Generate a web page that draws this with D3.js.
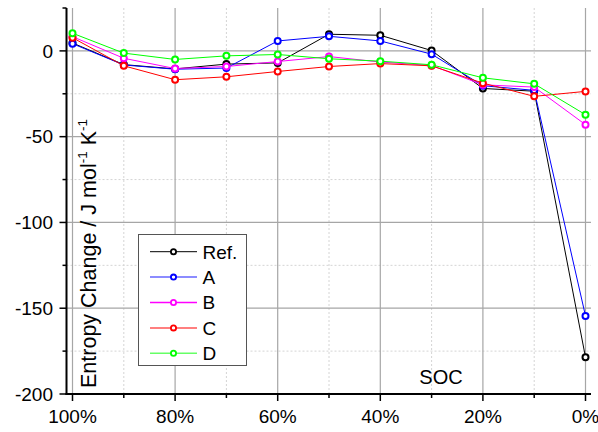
<!DOCTYPE html>
<html>
<head>
<meta charset="utf-8">
<script src="https://cdn.jsdelivr.net/npm/d3@7"></script>
<style>
  html, body { margin: 0; padding: 0; background: #fff; }
  svg { display: block; font-family: "Liberation Sans", Arial, sans-serif; }
</style>
</head>
<body>
<svg id="chart" width="598" height="432"></svg>
<script>
// State of charge (%) at each measurement
const soc = [100, 90, 80, 70, 60, 50, 40, 30, 20, 10, 0];
const xTickValues = [100, 80, 60, 40, 20, 0];
const xTickLabels = ["100%", "80%", "60%", "40%", "20%", "0%"];
const yTickValues = [0, -50, -100, -150, -200];
const yTickLabels = ["0", "-50", "-100", "-150", "-200"];

// Entropy change (J mol^-1 K^-1) per sample
const seriesNames = ["Ref.", "A", "B", "C", "D"];
const seriesColors = ["#000000", "#0000ff", "#ff00ff", "#ff0000", "#00ff00"];
const refValues = [4.6, -8.0, -10.5, -7.7, -7.0, 9.7, 9.1, 0.2, -21.9, -23.5, -178.6];
const aValues   = [4.2, -8.2, -10.7, -10.0, 5.8, 8.5, 5.8, -1.9, -20.3, -23.0, -154.5];
const bValues   = [8.3, -4.3, -10.3, -9.1, -6.2, -3.3, -6.5, -8.5, -19.8, -21.1, -43.0];
const cValues   = [7.7, -8.7, -16.8, -15.1, -12.0, -9.1, -7.4, -8.7, -18.8, -26.5, -23.6];
const dValues   = [10.3, -1.3, -5.0, -2.9, -2.1, -4.6, -6.0, -8.1, -15.7, -19.2, -37.2];
const allValues = [refValues, aValues, bValues, cValues, dValues];

const svg = d3.select("#chart");

// plot frame
const frameL = 66.5, frameR = 591, frameT = 8, frameB = 394;

const x = d3.scaleLinear().domain([100, 0]).range([72.5, 585.5]);
const y = d3.scaleLinear().domain([-200, 25]).range([frameB, frameT]);

const minorX = d3.range(90, -1, -20);           // 90, 70, ... 10
const minorY = [25, -25, -75, -125, -175];

// grid
const grid = svg.append("g");
grid.selectAll("line.gxm").data(minorX).join("line")
  .attr("x1", d => x(d)).attr("x2", d => x(d))
  .attr("y1", frameT).attr("y2", frameB)
  .attr("stroke", "#d4d4d4").attr("stroke-width", 1).attr("stroke-dasharray", "2,2");
grid.selectAll("line.gym").data(minorY.filter(d => d < 25)).join("line")
  .attr("x1", frameL).attr("x2", frameR)
  .attr("y1", d => y(d)).attr("y2", d => y(d))
  .attr("stroke", "#d4d4d4").attr("stroke-width", 1).attr("stroke-dasharray", "2,2");
grid.selectAll("line.gx").data(xTickValues).join("line")
  .attr("x1", d => x(d)).attr("x2", d => x(d))
  .attr("y1", frameT).attr("y2", frameB)
  .attr("stroke", "#a6a6a6").attr("stroke-width", 1.2);
grid.selectAll("line.gy").data(yTickValues.filter(d => d > -200)).join("line")
  .attr("x1", frameL).attr("x2", frameR)
  .attr("y1", d => y(d)).attr("y2", d => y(d))
  .attr("stroke", "#a6a6a6").attr("stroke-width", 1.2);

// series
const line = d3.line().x((d, i) => x(soc[i])).y(d => y(d));
allValues.forEach((vals, k) => {
  const g = svg.append("g");
  g.append("path").datum(vals)
    .attr("d", line)
    .attr("fill", "none")
    .attr("stroke", seriesColors[k])
    .attr("stroke-width", 1);
  g.selectAll("circle").data(vals).join("circle")
    .attr("cx", (d, i) => x(soc[i]))
    .attr("cy", d => y(d))
    .attr("r", 3)
    .attr("fill", "#fff")
    .attr("stroke", seriesColors[k])
    .attr("stroke-width", 2);
});

// axes
const axes = svg.append("g").attr("stroke", "#000");
axes.append("line").attr("x1", frameL).attr("x2", frameL).attr("y1", frameT).attr("y2", frameB + 1)
  .attr("stroke-width", 2);
axes.append("line").attr("x1", frameL - 1).attr("x2", frameR).attr("y1", frameB).attr("y2", frameB)
  .attr("stroke-width", 2);

// x ticks
axes.selectAll("line.xt").data(xTickValues).join("line")
  .attr("x1", d => x(d)).attr("x2", d => x(d))
  .attr("y1", frameB - 1).attr("y2", frameB + 7).attr("stroke-width", 1.5);
axes.selectAll("line.xmt").data(minorX).join("line")
  .attr("x1", d => x(d)).attr("x2", d => x(d))
  .attr("y1", frameB).attr("y2", frameB + 4).attr("stroke-width", 1.5);
// y ticks
axes.selectAll("line.yt").data(yTickValues).join("line")
  .attr("x1", frameL - 7).attr("x2", frameL)
  .attr("y1", d => y(d)).attr("y2", d => y(d)).attr("stroke-width", 1.5);
axes.selectAll("line.ymt").data(minorY).join("line")
  .attr("x1", frameL - 4).attr("x2", frameL)
  .attr("y1", d => y(d)).attr("y2", d => y(d)).attr("stroke-width", 1.5);

// tick labels
svg.append("g").selectAll("text").data(xTickValues).join("text")
  .attr("x", d => x(d)).attr("y", 423)
  .attr("text-anchor", "middle")
  .attr("font-size", 19)
  .text((d, i) => xTickLabels[i]);
svg.append("g").selectAll("text").data(yTickValues).join("text")
  .attr("x", 53).attr("y", d => y(d) + 6.8)
  .attr("text-anchor", "end")
  .attr("font-size", 19)
  .text((d, i) => yTickLabels[i]);

// axis titles
const yl = svg.append("text")
  .attr("transform", "translate(96,388) rotate(-90)")
  .attr("font-size", 21.5)
  .attr("text-anchor", "start");
yl.append("tspan").text("Entropy Change / J mol");
yl.append("tspan").attr("font-size", 13.5).attr("dy", -9).text("-1");
yl.append("tspan").attr("dy", 9).text(" K");
yl.append("tspan").attr("font-size", 13.5).attr("dy", -9).text("-1");

svg.append("text").attr("x", 441).attr("y", 384)
  .attr("text-anchor", "middle").attr("font-size", 20).text("SOC");

// legend
const lg = svg.append("g");
lg.append("rect").attr("x", 138.5).attr("y", 234.5).attr("width", 108).attr("height", 131)
  .attr("fill", "#fff").attr("stroke", "#555").attr("stroke-width", 1);
const legendLineStyle = [
  { w: 1, o: 1 }, { w: 2, o: 0.45 }, { w: 1.5, o: 1 }, { w: 2, o: 0.5 }, { w: 1.5, o: 0.6 }
];
seriesNames.forEach((name, k) => {
  const ry = 251.7 + k * 25.4;
  lg.append("line").attr("x1", 150).attr("x2", 197).attr("y1", ry).attr("y2", ry)
    .attr("stroke", seriesColors[k])
    .attr("stroke-width", legendLineStyle[k].w)
    .attr("stroke-opacity", legendLineStyle[k].o);
  lg.append("circle").attr("cx", 173.5).attr("cy", ry).attr("r", 2.6)
    .attr("fill", "#fff").attr("stroke", seriesColors[k]).attr("stroke-width", 1.8);
  lg.append("text").attr("x", 202.5).attr("y", ry + 6.8)
    .attr("font-size", 19).text(name);
});
</script>
</body>
</html>
